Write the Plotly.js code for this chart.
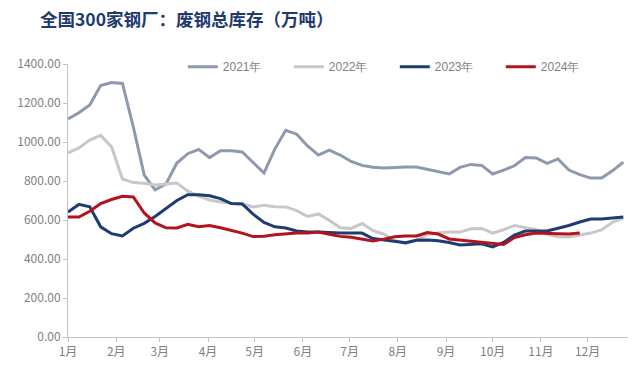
<!DOCTYPE html>
<html>
<head>
<meta charset="utf-8">
<script src="https://cdn.plot.ly/plotly-3.0.1.min.js"></script>
<style>
html,body{margin:0;padding:0;background:#fff;}
#chart{width:640px;height:371px;}
</style>
</head>
<body>
<div id="chart"></div>
<script>
// Weekly scrap-steel inventory of 300 steel mills (10k tonnes)
const seriesNames = ["2021年", "2022年", "2023年", "2024年"];
const monthLabels = ["1月","2月","3月","4月","5月","6月","7月","8月","9月","10月","11月","12月"];

const v2021 = [1118,1150,1190,1290,1305,1300,1077,830,755,785,892,940,962,920,955,955,949,895,841,965,1060,1040,980,933,958,933,900,880,870,867,870,872,872,860,848,836,870,885,880,836,856,878,920,918,890,913,856,833,815,815,852,897];
const v2022 = [944,970,1010,1034,975,810,792,788,780,785,790,748,722,702,692,686,683,667,676,668,667,648,618,631,598,560,557,582,546,528,495,478,497,525,534,538,538,555,557,533,550,572,560,550,527,514,513,522,533,549,588,610];
const v2023 = [641,680,668,565,530,518,558,583,618,660,700,730,730,724,710,684,682,630,588,565,559,544,539,538,535,533,533,533,505,497,490,483,496,497,494,485,472,476,478,462,485,523,543,544,544,558,572,590,605,605,610,615];
const v2024 = [615,615,645,684,705,722,718,636,585,560,559,578,566,572,560,546,533,515,517,524,529,533,533,538,527,516,512,503,493,502,514,518,518,536,528,503,497,492,486,480,474,510,524,533,533,530,528,533];

const colors = ["#8e99ae", "#c8c8c8", "#1e3c72", "#b3141c"];
const allValues = [v2021, v2022, v2023, v2024];

function pad(n){return (n<10?"0":"")+n;}
function weekDate(i){
  const d = new Date(Date.UTC(2023,0,1+7*i));
  return d.getUTCFullYear()+"-"+pad(d.getUTCMonth()+1)+"-"+pad(d.getUTCDate());
}
const monthTicks = monthLabels.map((_,m)=>"2023-"+pad(m+1)+"-01");

const traces = allValues.map((vals,k)=>({
  type:"scatter",
  mode:"lines",
  name:seriesNames[k],
  x: vals.map((_,i)=>weekDate(i)),
  y: vals,
  line:{color:colors[k], width:3},
  hoverinfo:"x+y"
}));

const font = "'Noto Sans CJK SC', 'Noto Sans', sans-serif";
const layout = {
  width:640, height:371,
  margin:{l:68, r:12, t:64, b:34},
  paper_bgcolor:"#ffffff",
  plot_bgcolor:"#ffffff",
  showlegend:true,
  title:{
    text:"<b>全国300家钢厂：废钢总库存（万吨）</b>",
    font:{family:font, size:17.5, color:"#1f3a6e"},
    x:40/640, xanchor:"left", xref:"container",
    y:1-20/371, yanchor:"middle", yref:"container"
  },
  legend:{
    orientation:"h",
    x:0.205, xanchor:"left",
    y:0.99, yanchor:"middle",
    font:{family:"'Liberation Sans', Arial, sans-serif", size:12, color:"#808080"},
    bgcolor:"rgba(0,0,0,0)",
    entrywidth:61, entrywidthmode:"pixels",
    traceorder:"normal"
  },
  xaxis:{
    type:"date",
    range:["2023-01-01","2023-12-27"],
    tickvals:monthTicks,
    ticktext:monthLabels,
    tickfont:{family:font, size:12, color:"#808080"},
    showgrid:false,
    zeroline:false,
    showline:true, linecolor:"#c4c4c4", linewidth:1,
    ticks:"outside", ticklen:4, tickcolor:"#c4c4c4"
  },
  yaxis:{
    range:[0,1400],
    dtick:200,
    tickformat:".2f",
    tickfont:{family:font, size:12, color:"#808080"},
    showgrid:false,
    zeroline:false,
    showline:true, linecolor:"#c4c4c4", linewidth:1,
    ticks:"outside", ticklen:4, tickcolor:"#c4c4c4"
  }
};

Plotly.newPlot("chart", traces, layout, {displayModeBar:false, staticPlot:true});
</script>
</body>
</html>
